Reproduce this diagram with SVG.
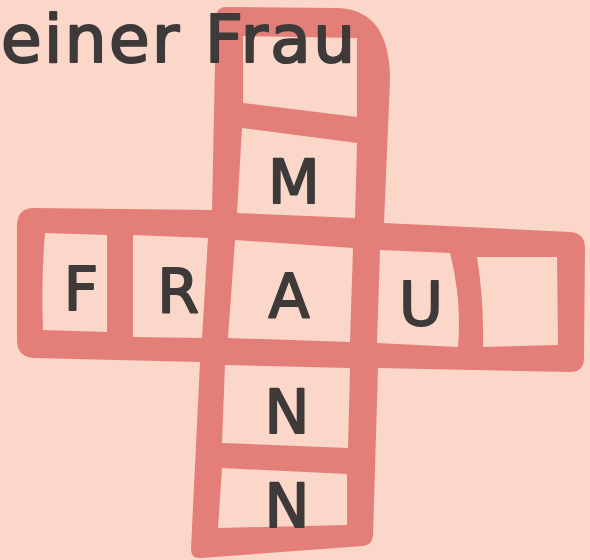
<svg xmlns="http://www.w3.org/2000/svg" width="590" height="560" viewBox="0 0 590 560">
<style>
.bg{fill:#FBD7CA}
.frame{fill:#E37F78}
.cell{fill:#FBD7CA}
.lt{font-family:"DejaVu Sans",sans-serif;font-size:60px;fill:#3E3A39;stroke:#3E3A39;stroke-width:2;stroke-linejoin:round;text-anchor:middle}
.hd{font-family:"DejaVu Sans",sans-serif;font-size:66px;fill:#3E3A39;stroke:#3E3A39;stroke-width:2.2;stroke-linejoin:round}
</style>
<rect class="bg" x="0" y="0" width="590" height="560"/>
<g id="cross">
<path class="frame" d="M226,7 L338,8 Q390,10 390,80 L384,223 L570,232 Q585,233 585,248 L584,358 Q584,372 570,372 L378,368 L373,536 Q372,545 363,546 L201,558 Q191,559 191,549 L200,362 L34,358 Q17,357 17,340 L17,226 Q17,208 34,208 L212,210 L216,16 Q217,7 226,7 Z"/>
</g>
<g id="cell-top"><path class="cell" d="M243,36 L357,38 L357,117 L243,103 Z"/></g>
<text class="hd" x="1" y="62" textLength="354" lengthAdjust="spacing">einer Frau</text>
<g id="cell-M"><path class="cell" d="M242,128 L357,143 L355,218 L237,213 Z"/><text class="lt" x="294" y="203">M</text></g>
<g id="cell-F"><path class="cell" d="M45,233 L107,235 L107,332 L43,330 Q41,280 45,233 Z"/><text class="lt" x="81" y="310">F</text></g>
<g id="cell-R"><path class="cell" d="M133,235 L208,238 L202,338 L133,337 Z"/><text class="lt" x="178" y="313">R</text></g>
<g id="cell-A"><path class="cell" d="M235,240 L353,248 L350,342 L228,338 Z"/><text class="lt" x="289" y="317">A</text></g>
<g id="cell-U"><path class="cell" d="M380,250 L450,253 Q462,300 458,347 L377,343 Z"/><text class="lt" x="421" y="325">U</text></g>
<g id="cell-end"><path class="cell" d="M477,257 L557,257 L558,345 L483,347 Q484,300 477,257 Z"/></g>
<g id="cell-N1"><path class="cell" d="M225,365 L350,368 L348,448 L222,443 Z"/><text class="lt" x="287" y="433">N</text></g>
<g id="cell-N2"><path class="cell" d="M222,468 L347,474 L347,525 L218,528 Z"/><text class="lt" x="287" y="527">N</text></g>
</svg>
